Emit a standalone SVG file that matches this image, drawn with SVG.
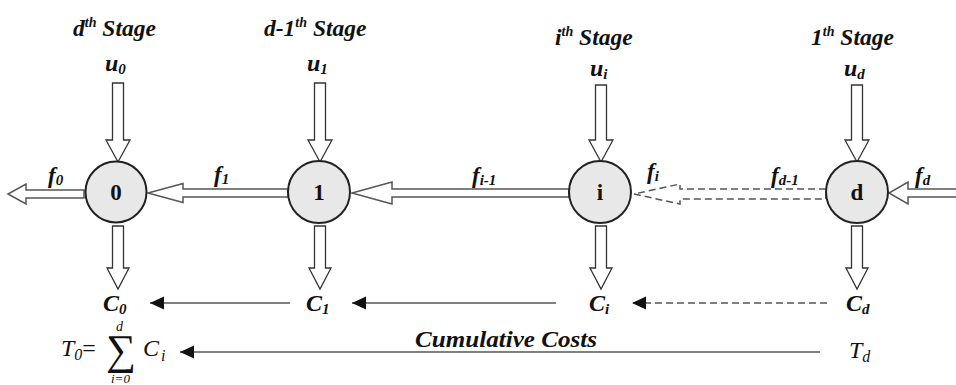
<svg xmlns="http://www.w3.org/2000/svg" width="956" height="385" viewBox="0 0 956 385">
<style>
.bi{font-family:'Liberation Serif','Tinos','DejaVu Serif',serif;font-weight:bold;font-style:italic;fill:#111}
.it{font-family:'Liberation Serif','Tinos','DejaVu Serif',serif;font-style:italic;fill:#111}
.rg{font-family:'Liberation Serif','Tinos','DejaVu Serif',serif;fill:#111}
.stage{font-size:23.5px}
.sym{font-size:24px}
.fl{font-size:23px}
.num{font-family:'Liberation Serif','Tinos','DejaVu Serif',serif;font-weight:bold;font-size:23px;text-anchor:middle;fill:#111}
.node circle{fill:#e8e8e8;stroke:#222;stroke-width:2}
.blk{fill:#fff;stroke:#333;stroke-width:1.3;stroke-linejoin:miter}
.hblk{fill:#fff;stroke:#555;stroke-width:1.5}
.dash{stroke-dasharray:7,4}
.ln{stroke:#555;stroke-width:1.6;fill:none}
</style>
<defs>
<marker id="ah" markerUnits="userSpaceOnUse" markerWidth="15" markerHeight="14" refX="14" refY="6.5" orient="auto">
<path d="M0,0 L14,6.5 L0,13 z" fill="#111"/>
</marker>
</defs>

<g id="titles">
<text class="bi stage" x="73" y="36">d<tspan font-size="14" dy="-9">th</tspan><tspan dy="9"> Stage</tspan></text>
<text class="bi stage" x="264" y="36">d-1<tspan font-size="14" dy="-9">th</tspan><tspan dy="9"> Stage</tspan></text>
<text class="bi stage" x="555" y="45">i<tspan font-size="14" dy="-9">th</tspan><tspan dy="9"> Stage</tspan></text>
<text class="bi stage" x="811" y="45">1<tspan font-size="14" dy="-9">th</tspan><tspan dy="9"> Stage</tspan></text>
</g>

<g id="connectors">
<polygon class="blk" points="112.5,83 123.5,83 123.5,140 130,140 118,162 106,140 112.5,140"/>
<polygon class="blk" points="314.5,83 325.5,83 325.5,140 332,140 320,162 308,140 314.5,140"/>
<polygon class="blk" points="595.5,85 606.5,85 606.5,140 613,140 601,162 589,140 595.5,140"/>
<polygon class="blk" points="851.5,85 862.5,85 862.5,140 869,140 857,162 845,140 851.5,140"/>
<polygon class="blk" points="112.5,226 123.5,226 123.5,268 129,268 118,289 107,268 112.5,268"/>
<polygon class="blk" points="314.5,226 325.5,226 325.5,268 331,268 320,289 309,268 314.5,268"/>
<polygon class="blk" points="595.5,226 606.5,226 606.5,268 612,268 601,289 590,268 595.5,268"/>
<polygon class="blk" points="851.5,226 862.5,226 862.5,268 868,268 857,289 846,268 851.5,268"/>
<polygon class="hblk" points="84,190 26,190 26,184 8,194 26,204 26,198 84,198"/>
<polygon class="hblk" points="288,189 183,189 183,183.5 148,193 183,202.5 183,197 288,197"/>
<polygon class="hblk" points="569,189 392,189 392,182 352,193 392,204 392,197 569,197"/>
<polygon class="hblk dash" points="826,189 680,189 680,184 634,194 680,204 680,199 826,199"/>
<polygon class="hblk" points="962,189 908,189 908,182 889,193 908,204 908,197 962,197"/>
<line class="ln" x1="290" y1="303" x2="150" y2="303" marker-end="url(#ah)"/>
<line class="ln" x1="556" y1="303" x2="352" y2="303" marker-end="url(#ah)"/>
<line class="ln dash" x1="827" y1="303" x2="632" y2="303" marker-end="url(#ah)"/>
<line class="ln" x1="820" y1="352" x2="180" y2="352" marker-end="url(#ah)"/>
</g>

<g id="node0" class="node"><circle cx="116" cy="192" r="30.5"/><text class="num" x="116" y="200">0</text></g>
<g id="node1" class="node"><circle cx="319" cy="192" r="31"/><text class="num" x="319" y="200">1</text></g>
<g id="nodei" class="node"><circle cx="600" cy="192" r="31"/><text class="num" x="600" y="200">i</text></g>
<g id="noded" class="node"><circle cx="857" cy="192" r="31"/><text class="num" x="857" y="200">d</text></g>

<g id="u-labels">
<text class="bi sym" x="105" y="71">u<tspan font-size="15" dy="3">0</tspan></text>
<text class="bi sym" x="307" y="71">u<tspan font-size="15" dy="3">1</tspan></text>
<text class="bi sym" x="590" y="76">u<tspan font-size="15" dy="3">i</tspan></text>
<text class="bi sym" x="844" y="76">u<tspan font-size="15" dy="3">d</tspan></text>
</g>

<g id="f-labels">
<text class="bi fl" x="48" y="183">f<tspan font-size="15" dy="2">0</tspan></text>
<text class="bi fl" x="214" y="182">f<tspan font-size="15" dy="2">1</tspan></text>
<text class="bi fl" x="472" y="183">f<tspan font-size="15" dy="2">i-1</tspan></text>
<text class="bi fl" x="647" y="179">f<tspan font-size="15" dy="2">i</tspan></text>
<text class="bi fl" x="771" y="183">f<tspan font-size="15" dy="2">d-1</tspan></text>
<text class="bi fl" x="915" y="183">f<tspan font-size="15" dy="2">d</tspan></text>
</g>

<g id="c-labels">
<text class="bi sym" x="103" y="311">C<tspan font-size="15" dy="3">0</tspan></text>
<text class="bi sym" x="306" y="311">C<tspan font-size="15" dy="3">1</tspan></text>
<text class="bi sym" x="589" y="311">C<tspan font-size="15" dy="3">i</tspan></text>
<text class="bi sym" x="846" y="311">C<tspan font-size="15" dy="3">d</tspan></text>
</g>

<g id="totals">
<text class="it sym" x="849" y="358">T<tspan font-size="16" dy="4">d</tspan></text>
<text class="bi" font-size="23" x="415" y="347" textLength="182" lengthAdjust="spacingAndGlyphs">Cumulative Costs</text>
<text class="it sym" x="61" y="356">T<tspan font-size="16" dy="4">0</tspan><tspan class="rg" font-style="normal" dy="-4">=</tspan></text>
<text class="rg" font-size="42" x="106" y="364">∑</text>
<text class="it" font-size="14" x="116" y="331">d</text>
<text class="it" font-size="13" x="111" y="383">i=0</text>
<text class="it sym" x="143" y="356">C<tspan font-size="16" dy="5" dx="2">i</tspan></text>
</g>
</svg>
